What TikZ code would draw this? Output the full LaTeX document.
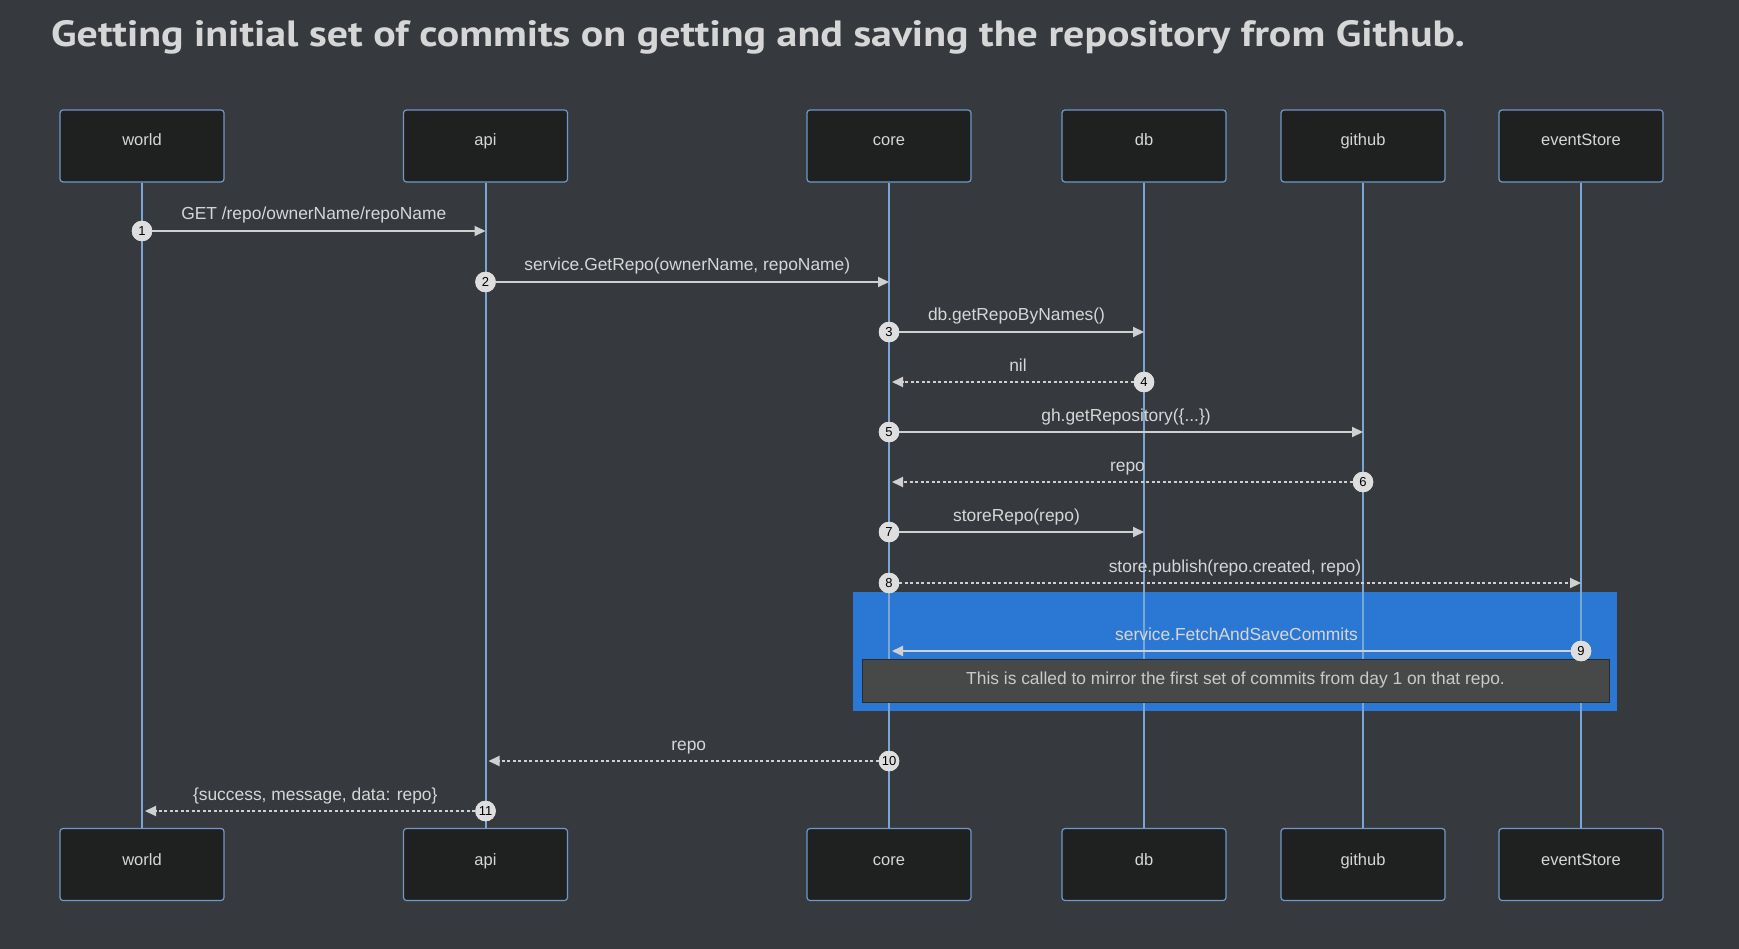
\documentclass[tikz,border=0pt]{standalone}
\usepackage{fontspec}
\setmainfont{Liberation Sans}
\newfontfamily\titlefont{PT Sans}
\usetikzlibrary{arrows.meta}
\definecolor{bgc}{RGB}{54,58,63}
\definecolor{boxfill}{RGB}{31,32,32}
\definecolor{boxline}{RGB}{112,152,200}
\definecolor{lifec}{RGB}{122,166,214}
\definecolor{msgc}{RGB}{208,208,208}
\definecolor{txtc}{RGB}{214,214,214}
\definecolor{rectc}{RGB}{43,120,212}
\definecolor{notefill}{RGB}{71,73,73}
\definecolor{noteline}{RGB}{40,42,44}
\definecolor{circfill}{RGB}{222,222,222}
\tikzset{
  actor/.style={draw=boxline, line width=1.2pt, fill=boxfill, rounded corners=3pt, minimum width=164pt, minimum height=72pt, inner sep=0pt},
  actortext/.style={text=txtc, font=\fontsize{16.5}{18}\selectfont, anchor=base},
  lifeline/.style={draw=lifec, line width=2pt},
  msg/.style={draw=msgc, line width=2pt, -{Triangle[length=11pt,width=10pt]}},
  ret/.style={msg, dash pattern=on 3pt off 2.5pt},
  num/.style={circle, fill=circfill, minimum size=20.5pt, inner sep=0pt, font=\fontsize{13}{13}\selectfont, text=black},
  lbl/.style={text=txtc, font=\fontsize{17.4}{18}\selectfont, anchor=base},
}
\begin{document}
\begin{tikzpicture}[x=1pt,y=-1pt]
\fill[bgc] (0,0) rectangle (1739,949);
\useasboundingbox (0,0) rectangle (1739,949);
% title
\node[anchor=base west, inner sep=0pt, text=txtc] (title) at (51,47) {\scalebox{1.148}[1]{\titlefont\bfseries\fontsize{36.5}{40}\selectfont Getting initial set of commits on getting and saving the repository from Github.}};
% x positions
\def\xw{142}\def\xa{485.5}\def\xc{889}\def\xd{1144}\def\xg{1363}\def\xe{1581}
% loop rect
\fill[rectc] (853,592) rectangle (1617,711);
% actors
\foreach \n/\x/\t in {world/\xw/world, api/\xa/api, core/\xc/core, db/\xd/db, github/\xg/github, es/\xe/eventStore}{
  \node[actor] (\n T) at (\x,146) {};
  \node[actortext] (\n Tt) at (\x,146) {\t};
  \node[actor] (\n B) at (\x,864.5) {};
  \node[actortext] (\n Bt) at (\x,865) {\t};
  \draw[lifeline] (\n T.south) -- (\n B.north);
}
% note
\node[draw=noteline, line width=1pt, fill=notefill, minimum width=747pt, minimum height=43pt, inner sep=0pt] (note) at (1235.5,680.5) {};
\node[text=txtc!85!gray, font=\fontsize{17.4}{18}\selectfont, anchor=base] (notetext) at (1235.5,684) {This is called to mirror the first set of commits from day 1 on that repo.};
% messages
\newcommand\mymsg[6]{%
  \coordinate (t#1) at (#3,#4);
  \node[num] (n#1) at (#2,#4) {};
  \draw[#5] (n#1) -- (t#1);
  \node[num] (c#1) at (#2,#4) {#1};
  \node[lbl] (l#1) at ({(#2+#3)/2},{#4-11}) {#6};
}
\mymsg{1}{\xw}{\xa}{231}{msg}{GET /repo/ownerName/repoName}
\mymsg{2}{\xa}{\xc}{282}{msg}{service.GetRepo(ownerName, repoName)}
\mymsg{3}{\xc}{\xd}{332}{msg}{db.getRepoByNames()}
\mymsg{4}{\xd}{\xc+3}{382}{ret}{nil}
\mymsg{5}{\xc}{\xg}{432}{msg}{gh.getRepository(\{...\})}
\mymsg{6}{\xg}{\xc+3}{482}{ret}{repo}
\mymsg{7}{\xc}{\xd}{532}{msg}{storeRepo(repo)}
\mymsg{8}{\xc}{\xe}{583}{ret}{store.publish(repo.created, repo)}
\mymsg{9}{\xe}{\xc+3}{651}{msg}{service.FetchAndSaveCommits}
\mymsg{10}{\xc}{\xa+3}{761}{ret}{repo}
\mymsg{11}{\xa}{\xw+3}{811}{ret}{\{success, message, data: repo\}}
\end{tikzpicture}
\end{document}
